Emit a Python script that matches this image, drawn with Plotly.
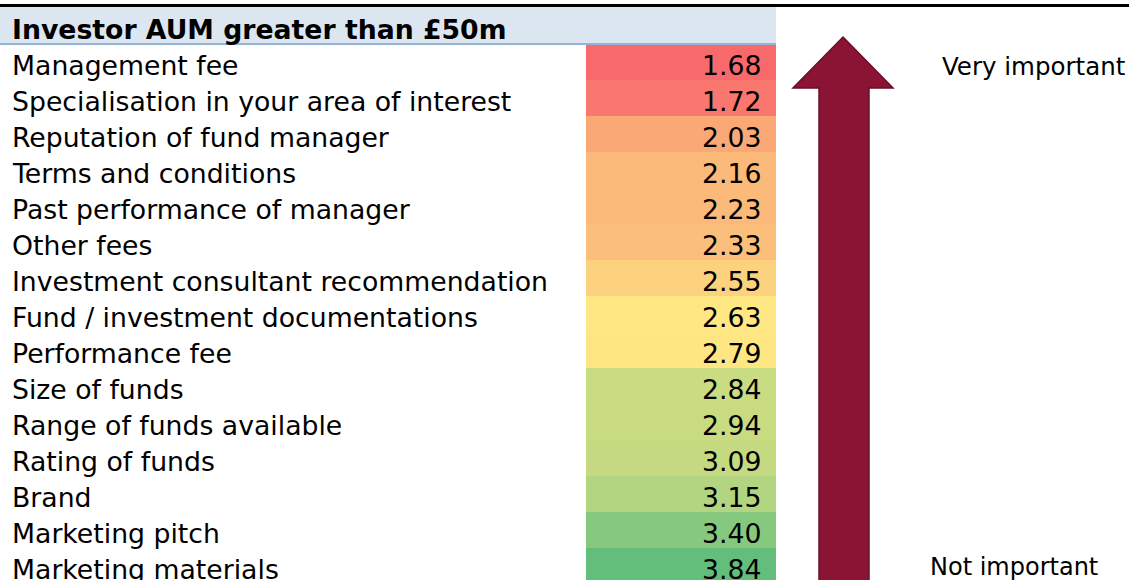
import plotly.graph_objects as go

W, H = 1129, 580

title = "Investor AUM greater than £50m"
labels = [
    "Management fee",
    "Specialisation in your area of interest",
    "Reputation of fund manager",
    "Terms and conditions",
    "Past performance of manager",
    "Other fees",
    "Investment consultant recommendation",
    "Fund / investment documentations",
    "Performance fee",
    "Size of funds",
    "Range of funds available",
    "Rating of funds",
    "Brand",
    "Marketing pitch",
    "Marketing materials",
]
scores = [1.68, 1.72, 2.03, 2.16, 2.23, 2.33, 2.55, 2.63, 2.79, 2.84, 2.94, 3.09, 3.15, 3.40, 3.84]
top_note = "Very important"
bottom_note = "Not important"

# style: cell colours (quantised red-yellow-green scale as in the reference)
cell_colors = ["#F8696B", "#F9776E", "#FBA877", "#FBB97A", "#FBBA7A", "#FCBF7B", "#FDD27F",
               "#FFE884", "#FEE683", "#CADC81", "#C8DB80", "#C5DA80", "#B1D580", "#86C97E", "#63BE7B"]

vmin, vmax = min(scores), max(scores)
colorscale = [[(v - vmin) / (vmax - vmin), c] for v, c in zip(scores, cell_colors)]

FONT = "DejaVu Sans"
FS = 26.7
ROW = 36
TABLE_TOP = 44

def px_x(p):
    return p / W

def px_y(p):
    return 1 - p / H

fig = go.Figure()
fig.add_trace(go.Heatmap(
    z=[[v] for v in scores],
    x=[0],
    y=labels,
    colorscale=colorscale,
    zmin=vmin, zmax=vmax,
    showscale=False,
    hoverinfo="skip",
    xgap=0, ygap=0,
))

n_visible = (H - TABLE_TOP) / ROW
fig.update_layout(
    width=W, height=H,
    margin=dict(l=0, r=0, t=0, b=0),
    paper_bgcolor="white", plot_bgcolor="white",
    xaxis=dict(domain=[px_x(586), px_x(776)], range=[-0.5, 0.5], visible=False, fixedrange=True),
    yaxis=dict(domain=[0, px_y(TABLE_TOP)], type="category", categoryorder="array",
               categoryarray=labels, range=[-0.5 + n_visible, -0.5], visible=False, fixedrange=True),
    showlegend=False,
    font=dict(family=FONT, color="black"),
)

shapes = []
# header band
shapes.append(dict(type="rect", xref="paper", yref="paper", x0=0, x1=px_x(776),
                   y0=px_y(44), y1=px_y(7), fillcolor="#DCE6F1", line_width=0, layer="below"))
# header bottom rule
shapes.append(dict(type="line", xref="paper", yref="paper", x0=0, x1=px_x(776),
                   y0=px_y(44), y1=px_y(44), line=dict(color="#95B3D7", width=2)))
# top black rule
shapes.append(dict(type="line", xref="paper", yref="paper", x0=0, x1=1,
                   y0=px_y(5.5), y1=px_y(5.5), line=dict(color="black", width=3)))
# arrow
pts = [(843, 37), (893, 88), (869, 88), (869, 600), (819, 600), (819, 88), (793, 88)]
path = "M " + " L ".join(f"{px_x(x):.5f},{px_y(y):.5f}" for x, y in pts) + " Z"
shapes.append(dict(type="path", xref="paper", yref="paper", path=path,
                   fillcolor="#8B1434", line=dict(color="#6A0F28", width=1.5)))
fig.update_layout(shapes=shapes)

ann = []
ann.append(dict(text=f"<b>{title}</b>", xref="paper", yref="paper", x=px_x(10), y=px_y(29),
                xanchor="left", yanchor="middle", showarrow=False, font=dict(size=FS, family=FONT)))
for lab, v in zip(labels, scores):
    ann.append(dict(text=lab, xref="paper", yref="y", x=px_x(10), y=lab, xanchor="left",
                    yanchor="middle", yshift=-3, showarrow=False, font=dict(size=FS, family=FONT)))
    ann.append(dict(text=f"{v:.2f}", xref="paper", yref="y", x=px_x(763), y=lab, xanchor="right",
                    yanchor="middle", yshift=-3, showarrow=False, font=dict(size=FS, family=FONT)))
ann.append(dict(text=top_note, xref="paper", yref="paper", x=px_x(940), y=px_y(66),
                xanchor="left", yanchor="middle", showarrow=False, font=dict(size=24.5, family=FONT)))
ann.append(dict(text=bottom_note, xref="paper", yref="paper", x=px_x(928), y=px_y(567),
                xanchor="left", yanchor="middle", showarrow=False, font=dict(size=24, family=FONT)))
fig.update_layout(annotations=ann)

fig.write_html("out.html", config={"displayModeBar": False},
               post_script="document.body.style.margin='0';document.body.style.overflow='hidden';")
